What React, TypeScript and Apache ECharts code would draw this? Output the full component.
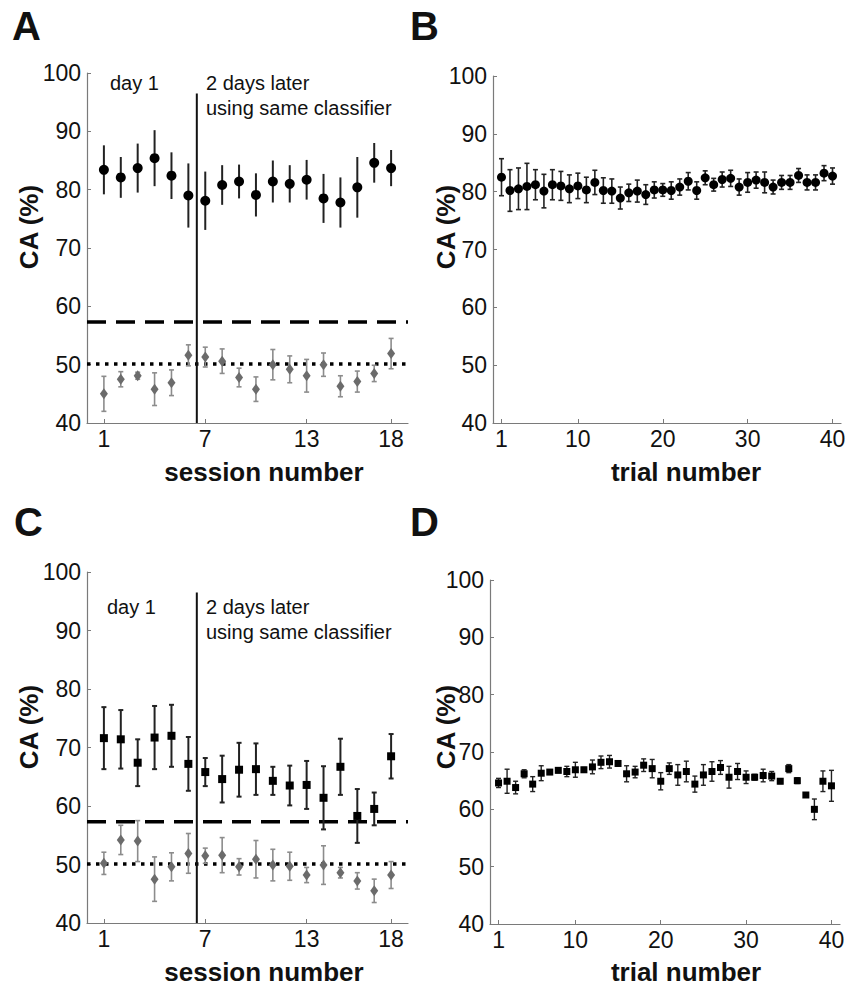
import React, { useEffect, useRef } from "react";
import * as echarts from "echarts";

// ---------- data ----------
const sessions = [1, 2, 3, 4, 5, 6, 7, 8, 9, 10, 11, 12, 13, 14, 15, 16, 17, 18];
const sessionTicks = [1, 7, 13, 18];
const trials = Array.from({ length: 40 }, (_, i) => i + 1);
const trialTicks = [1, 10, 20, 30, 40];
const caTicksMin = 40;
const caTicksMax = 100;

const aMean = [83.4, 82.1, 83.7, 85.4, 82.4, 79.0, 78.1, 80.8, 81.4, 79.1, 81.4, 81.0, 81.7, 78.5, 77.8, 80.4, 84.6, 83.7];
const aErr = [4.2, 3.5, 4.2, 4.8, 4.0, 5.5, 5.0, 3.4, 2.9, 3.7, 3.6, 3.2, 3.4, 4.2, 4.3, 5.2, 3.4, 3.1];
const aChanceMean = [45.0, 47.5, 48.1, 45.8, 46.9, 51.6, 51.3, 50.6, 47.8, 45.8, 50.0, 49.2, 48.1, 50.0, 46.3, 47.1, 48.5, 51.9];
const aChanceErr = [3.0, 1.3, 0.6, 2.8, 2.2, 1.8, 1.7, 2.1, 1.6, 2.1, 2.6, 2.3, 2.8, 2.0, 1.8, 1.8, 1.4, 2.6];

const bMean = [82.5, 80.2, 80.5, 80.9, 81.2, 80.1, 81.2, 81.0, 80.5, 81.0, 80.3, 81.6, 80.2, 80.1, 78.9, 79.8, 80.1, 79.5, 80.3, 80.3,
  80.2, 80.8, 81.8, 80.2, 82.4, 81.2, 82.1, 82.3, 80.8, 81.6, 82.0, 81.6, 80.8, 81.6, 81.6, 82.8, 81.6, 81.6, 83.2, 82.7];
const bErr = [3.2, 3.6, 3.6, 4.0, 2.6, 2.9, 2.6, 2.5, 2.4, 2.2, 2.2, 2.1, 2.2, 2.1, 1.9, 1.5, 1.9, 1.7, 1.4, 1.1,
  1.5, 1.4, 1.5, 1.5, 1.2, 1.1, 1.3, 1.4, 1.4, 1.7, 1.4, 1.8, 1.2, 1.2, 1.2, 1.2, 1.3, 1.3, 1.3, 1.4];

const cMean = [71.6, 71.4, 67.4, 71.7, 72.0, 67.2, 65.8, 64.6, 66.2, 66.3, 64.3, 63.5, 63.6, 61.4, 66.7, 58.3, 59.5, 68.5];
const cErr = [5.3, 5.0, 4.0, 5.4, 5.3, 4.6, 2.4, 4.0, 4.6, 4.4, 2.4, 3.4, 4.1, 5.4, 4.8, 4.6, 2.8, 3.8];
const cChanceMean = [50.2, 54.2, 54.0, 47.5, 49.6, 51.9, 51.5, 51.6, 49.6, 50.9, 49.9, 49.7, 48.2, 49.9, 48.6, 47.2, 45.5, 48.2];
const cChanceErr = [1.9, 2.5, 3.5, 3.8, 2.4, 3.4, 1.3, 3.0, 1.4, 3.2, 2.7, 2.4, 1.3, 3.3, 0.9, 1.4, 2.0, 2.3];

const dMean = [64.6, 64.9, 63.8, 66.2, 64.4, 66.3, 66.5, 66.8, 66.6, 66.9, 66.9, 67.4, 68.2, 68.3, 68.0, 66.2, 66.5, 67.7, 67.1, 64.9,
  67.1, 66.0, 66.6, 64.4, 66.0, 66.6, 67.3, 65.6, 66.6, 65.6, 65.6, 65.9, 65.8, 64.9, 67.1, 65.0, 62.5, 60.0, 64.9, 64.1];
const dErr = [0.8, 2.1, 1.1, 0.7, 1.3, 1.3, 0.4, 0.4, 0.9, 1.3, 0.4, 1.2, 1.1, 1.1, 0.4, 1.4, 1.0, 1.1, 1.6, 1.5,
  1.0, 1.8, 1.8, 1.4, 1.8, 1.7, 1.2, 1.9, 1.4, 1.1, 0.5, 1.1, 0.8, 0.4, 0.7, 0.5, 0.3, 1.8, 1.8, 2.7];

const significanceLevel = 57.3;
const chanceLevel = 50.1;
const dayBoundary = 6.5;
const dayBoundaryTop = 96.5;

// ---------- helpers ----------
const FONT = "'Liberation Sans', Arial, Helvetica, sans-serif";
const AXIS_GRAY = "#7a7a7a";

function xAxisCfg(gridIndex: number, min: number, max: number, ticks: number[]) {
  return {
    type: "value",
    gridIndex,
    min,
    max,
    axisLine: { show: true, lineStyle: { color: AXIS_GRAY, width: 1.2 } },
    axisTick: { show: true, inside: true, length: 4, customValues: ticks, lineStyle: { color: AXIS_GRAY } },
    axisLabel: { show: true, customValues: ticks, fontSize: 23, color: "#111", fontFamily: FONT, margin: 4 },
    splitLine: { show: false },
  };
}

function yAxisCfg(gridIndex: number) {
  return {
    type: "value",
    gridIndex,
    min: caTicksMin,
    max: caTicksMax,
    interval: 10,
    axisLine: { show: true, lineStyle: { color: AXIS_GRAY, width: 1.2 } },
    axisTick: { show: true, inside: true, length: 4, lineStyle: { color: AXIS_GRAY } },
    axisLabel: { show: true, fontSize: 23, color: "#111", fontFamily: FONT, margin: 6 },
    splitLine: { show: false },
  };
}

function errorSeries(axisIndex: number, xs: number[], means: number[], errs: number[], color: string, width: number, cap: number) {
  return {
    type: "custom",
    xAxisIndex: axisIndex,
    yAxisIndex: axisIndex,
    data: xs.map((x, i) => [x, means[i] - errs[i], means[i] + errs[i]]),
    encode: { x: 0, y: [1, 2] },
    z: 3,
    renderItem: (params: any, api: any) => {
      const x = api.value(0);
      const lo = api.coord([x, api.value(1)]);
      const hi = api.coord([x, api.value(2)]);
      const style = { stroke: color, lineWidth: width };
      return {
        type: "group",
        children: [
          { type: "line", shape: { x1: lo[0], y1: lo[1], x2: hi[0], y2: hi[1] }, style },
          { type: "line", shape: { x1: hi[0] - cap, y1: hi[1], x2: hi[0] + cap, y2: hi[1] }, style },
          { type: "line", shape: { x1: lo[0] - cap, y1: lo[1], x2: lo[0] + cap, y2: lo[1] }, style },
        ],
      };
    },
  };
}

function markerSeries(axisIndex: number, xs: number[], means: number[], symbol: string, size: any, color: string) {
  return {
    type: "scatter",
    xAxisIndex: axisIndex,
    yAxisIndex: axisIndex,
    data: xs.map((x, i) => [x, means[i]]),
    symbol,
    symbolSize: size,
    itemStyle: { color, opacity: 1 },
    z: 5,
  };
}

function hLine(axisIndex: number, x0: number, x1: number, y: number, dash: number[], width: number) {
  return {
    type: "line",
    xAxisIndex: axisIndex,
    yAxisIndex: axisIndex,
    data: [[x0, y], [x1, y]],
    symbol: "none",
    lineStyle: { color: "#000", width, type: dash, cap: "butt" },
    z: 2,
    silent: true,
  };
}

function vLine(axisIndex: number, x: number, y0: number, y1: number) {
  return {
    type: "line",
    xAxisIndex: axisIndex,
    yAxisIndex: axisIndex,
    data: [[x, y0], [x, y1]],
    symbol: "none",
    lineStyle: { color: "#111", width: 2 },
    z: 2,
    silent: true,
  };
}

function txt(text: string, x: number, y: number, size: number, bold: boolean, align = "left", rotation = 0) {
  return {
    type: "text",
    x,
    y,
    rotation,
    silent: true,
    style: {
      text,
      fill: "#111",
      fontSize: size,
      fontWeight: bold ? "bold" : "normal",
      fontFamily: FONT,
      align,
      verticalAlign: "middle",
    },
  };
}

export default function App() {
  const ref = useRef<HTMLDivElement>(null);

  useEffect(() => {
    if (!ref.current) return;
    const chart = echarts.init(ref.current, undefined, { renderer: "svg" });
    const option: any = {
      animation: false,
      backgroundColor: "#ffffff",
      grid: [
        { left: 87, top: 73, width: 321, height: 350 },
        { left: 493, top: 76, width: 348, height: 347 },
        { left: 87, top: 572, width: 321, height: 351 },
        { left: 490, top: 580, width: 350, height: 344 },
      ],
      xAxis: [
        xAxisCfg(0, 0, 19, sessionTicks),
        xAxisCfg(1, 0, 41, trialTicks),
        xAxisCfg(2, 0, 19, sessionTicks),
        xAxisCfg(3, 0, 41, trialTicks),
      ],
      yAxis: [yAxisCfg(0), yAxisCfg(1), yAxisCfg(2), yAxisCfg(3)],
      series: [
        // panel A
        hLine(0, 0, 19, significanceLevel, [19, 10], 3.5),
        hLine(0, 0, 19, chanceLevel, [3.5, 5.5], 3.5),
        vLine(0, dayBoundary, caTicksMin, dayBoundaryTop),
        errorSeries(0, sessions, aMean, aErr, "#222", 2, 0),
        markerSeries(0, sessions, aMean, "circle", 10, "#000"),
        errorSeries(0, sessions, aChanceMean, aChanceErr, "#8c8c8c", 1.6, 2.5),
        markerSeries(0, sessions, aChanceMean, "diamond", [8, 11], "#6b6b6b"),
        // panel B
        errorSeries(1, trials, bMean, bErr, "#222", 1.6, 2.5),
        markerSeries(1, trials, bMean, "circle", 9, "#000"),
        // panel C
        hLine(2, 0, 19, significanceLevel, [19, 10], 3.5),
        hLine(2, 0, 19, chanceLevel, [3.5, 5.5], 3.5),
        vLine(2, dayBoundary, caTicksMin, dayBoundaryTop),
        errorSeries(2, sessions, cMean, cErr, "#222", 2, 2.5),
        markerSeries(2, sessions, cMean, "rect", 8, "#000"),
        errorSeries(2, sessions, cChanceMean, cChanceErr, "#8c8c8c", 1.6, 2.5),
        markerSeries(2, sessions, cChanceMean, "diamond", [8, 11], "#6b6b6b"),
        // panel D
        errorSeries(3, trials, dMean, dErr, "#222", 1.4, 2.5),
        markerSeries(3, trials, dMean, "rect", 7, "#000"),
      ],
      graphic: [
        txt("A", 12, 26, 40, true),
        txt("B", 410, 26, 40, true),
        txt("C", 14, 522, 40, true),
        txt("D", 410, 522, 40, true),
        txt("CA (%)", 29, 227, 26, true, "center", Math.PI / 2),
        txt("CA (%)", 446, 227, 26, true, "center", Math.PI / 2),
        txt("CA (%)", 29, 727, 26, true, "center", Math.PI / 2),
        txt("CA (%)", 446, 727, 26, true, "center", Math.PI / 2),
        txt("session number", 264, 472, 26, true, "center"),
        txt("session number", 264, 972, 26, true, "center"),
        txt("trial number", 686, 472, 26, true, "center"),
        txt("trial number", 686, 972, 26, true, "center"),
        txt("day 1", 110, 83, 20, false),
        txt("2 days later", 206, 83, 20, false),
        txt("using same classifier", 206, 108, 20, false),
        txt("day 1", 107, 607, 20, false),
        txt("2 days later", 206, 607, 20, false),
        txt("using same classifier", 206, 632, 20, false),
      ],
    };
    chart.setOption(option);
    return () => chart.dispose();
  }, []);

  return (
    <div
      ref={ref}
      style={{ position: "fixed", left: 0, top: 0, width: 849, height: 989, background: "#fff" }}
    />
  );
}
